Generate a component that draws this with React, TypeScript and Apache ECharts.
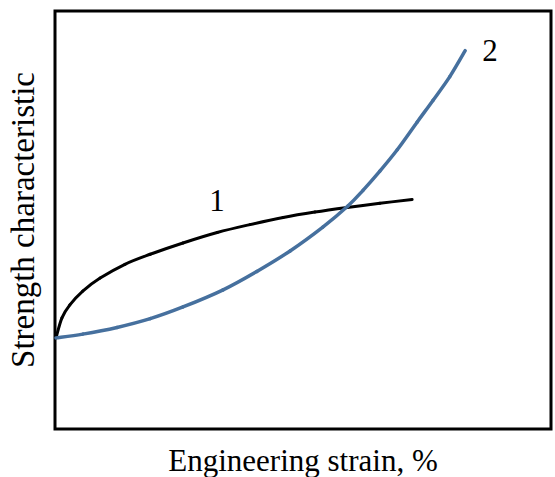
import React, { useEffect, useRef } from "react";
import * as echarts from "echarts";

const xAxisTitle = "Engineering strain, %";
const yAxisTitle = "Strength characteristic";
const curveNames = ["1", "2"];

// curve 1 (black): [strain, strength] in relative units 0..100
const curve1: [number, number][] = [
  [0.2, 21.8], [1.4, 26.6], [3.0, 29.7], [5.6, 33.0], [9.1, 36.1],
  [14.1, 39.4], [19.2, 41.8], [25.8, 44.5], [32.7, 47.0], [39.3, 48.9],
  [46.0, 50.6], [52.4, 51.9], [58.9, 53.0], [65.5, 54.0], [72.0, 54.9],
];

// curve 2 (blue)
const curve2: [number, number][] = [
  [0.2, 21.8], [5.6, 22.7], [12.5, 24.3], [19.2, 26.4], [25.8, 29.2],
  [33.9, 33.3], [40.7, 37.7], [47.4, 42.6], [54.0, 48.3], [59.1, 53.4],
  [62.1, 57.1], [65.5, 61.7], [69.0, 66.8], [73.0, 73.4], [76.2, 78.6],
  [79.6, 84.3], [82.7, 90.5],
];

const FONT = "'Liberation Serif', 'Times New Roman', serif";

// smooth curve through the points (Catmull-Rom segments), positioned via the axes
function splineSeries(name: string, pts: [number, number][], color: string, width: number, z: number) {
  return {
    name,
    type: "custom",
    data: pts,
    encode: { x: 0, y: 1 },
    z,
    silent: true,
    renderItem: (params: any, api: any) => {
      const i = params.dataIndex;
      if (i >= pts.length - 1) return { type: "group", children: [] };
      const c = (k: number) => api.coord(pts[Math.max(0, Math.min(pts.length - 1, k))]);
      const p0 = c(i - 1);
      const p1 = c(i);
      const p2 = c(i + 1);
      const p3 = c(i + 2);
      return {
        type: "bezierCurve",
        shape: {
          x1: p1[0],
          y1: p1[1],
          x2: p2[0],
          y2: p2[1],
          cpx1: p1[0] + (p2[0] - p0[0]) / 6,
          cpy1: p1[1] + (p2[1] - p0[1]) / 6,
          cpx2: p2[0] - (p3[0] - p1[0]) / 6,
          cpy2: p2[1] - (p3[1] - p1[1]) / 6,
        },
        style: { stroke: color, lineWidth: width, fill: "none", lineCap: "round" },
      };
    },
  };
}

export default function App() {
  const ref = useRef<HTMLDivElement>(null);
  useEffect(() => {
    if (!ref.current) return;
    const chart = echarts.init(ref.current, null, { renderer: "svg" });
    chart.setOption({
      animation: false,
      backgroundColor: "#ffffff",
      grid: {
        left: 55,
        top: 11,
        width: 496,
        height: 418,
        show: true,
        borderColor: "#000000",
        borderWidth: 3,
        backgroundColor: "transparent",
        containLabel: false,
        outerBoundsMode: "none",
      },
      xAxis: {
        type: "value",
        min: 0,
        max: 100,
        name: xAxisTitle,
        nameLocation: "middle",
        nameGap: 16,
        nameTextStyle: { fontFamily: FONT, fontSize: 31, color: "#000" },
        axisLine: { show: false },
        axisTick: { show: false },
        axisLabel: { show: false },
        splitLine: { show: false },
      },
      yAxis: {
        type: "value",
        min: 0,
        max: 100,
        name: yAxisTitle,
        nameLocation: "middle",
        nameGap: 16,
        nameTextStyle: { fontFamily: FONT, fontSize: 33, color: "#000" },
        axisLine: { show: false },
        axisTick: { show: false },
        axisLabel: { show: false },
        splitLine: { show: false },
      },
      series: [
        splineSeries(curveNames[0], curve1, "#000000", 3, 3),
        splineSeries(curveNames[1], curve2, "#46709e", 3.5, 4),
      ],
      graphic: [
        {
          type: "text",
          x: 217,
          y: 200,
          style: {
            text: curveNames[0],
            font: `31px ${FONT}`,
            fill: "#000",
            align: "center",
            verticalAlign: "middle",
          },
        },
        {
          type: "text",
          x: 490,
          y: 50,
          style: {
            text: curveNames[1],
            font: `31px ${FONT}`,
            fill: "#000",
            align: "center",
            verticalAlign: "middle",
          },
        },
      ],
    });
    return () => chart.dispose();
  }, []);
  return (
    <div
      ref={ref}
      style={{ position: "fixed", left: 0, top: 0, width: 555, height: 477 }}
    />
  );
}
